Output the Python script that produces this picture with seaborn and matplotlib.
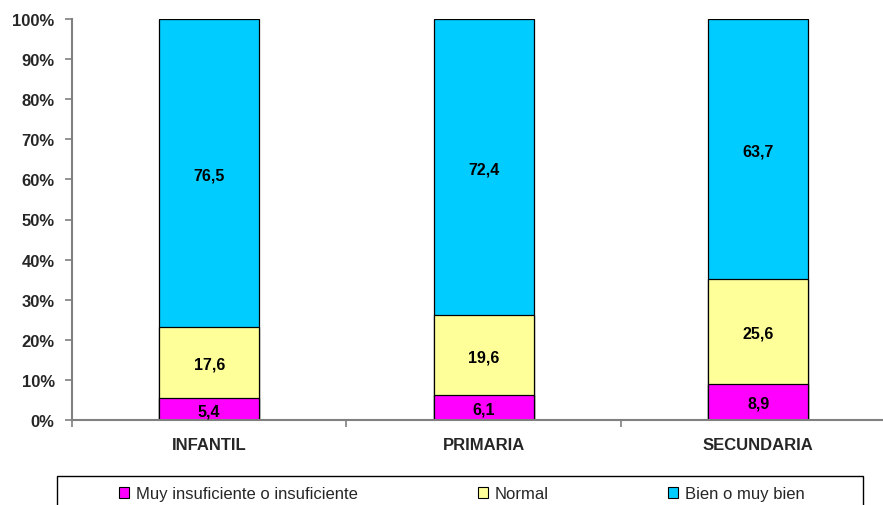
import pandas as pd
import matplotlib.pyplot as plt
import seaborn as sns
from matplotlib.patches import Patch, Rectangle
from matplotlib.ticker import FixedLocator

# Data (percentages as shown in the chart)
niveles = ["INFANTIL", "PRIMARIA", "SECUNDARIA"]
muy_insuf = [5.4, 6.1, 8.9]
normal = [17.6, 19.6, 25.6]
bien = [76.5, 72.4, 63.7]
series_names = ["Muy insuficiente o insuficiente", "Normal", "Bien o muy bien"]
colors = ["#FF00FF", "#FFFF99", "#00CCFF"]

sns.set_style("white")
plt.rcParams["font.family"] = ["Liberation Sans", "DejaVu Sans"]

df = pd.DataFrame({"nivel": niveles, "a": muy_insuf, "b": normal, "c": bien})
tot = df[["a", "b", "c"]].sum(axis=1)
# normalise to 100% and build cumulative tops
df["p1"] = df["a"] / tot * 100
df["p2"] = (df["a"] + df["b"]) / tot * 100
df["p3"] = (df["a"] + df["b"] + df["c"]) / tot * 100

fig = plt.figure(figsize=(8.83, 5.06), dpi=100)
ax = fig.add_axes([72 / 883, 85 / 506, 823.5 / 883, 401 / 506])

bw = 0.365
# back to front: full stack, then lower parts on top
for col, c in zip(["p3", "p2", "p1"], colors[::-1]):
    sns.barplot(data=df, x="nivel", y=col, color=c, width=bw, edgecolor="black",
                linewidth=0.9, saturation=1, ax=ax)

# value labels centred in each segment
for i in range(len(df)):
    lows = [0, df["p1"][i], df["p2"][i]]
    highs = [df["p1"][i], df["p2"][i], df["p3"][i]]
    vals = [muy_insuf[i], normal[i], bien[i]]
    for lo, hi, v in zip(lows, highs, vals):
        ax.text(i, (lo + hi) / 2 - 0.4, f"{v:.1f}".replace(".", ","), ha="center", va="center",
                fontsize=11.5, fontweight="bold", color="black")

ax.set_xlim(-0.5, 2.5)
ax.set_ylim(0, 100)
ax.set_yticks(range(0, 101, 10))
ax.set_yticklabels([f"{t}%" for t in range(0, 101, 10)], fontsize=12, fontweight="bold")
ax.set_xticks(range(len(niveles)))
ax.set_xticklabels(niveles, fontsize=12, fontweight="bold")
ax.xaxis.set_minor_locator(FixedLocator([-0.5, 0.5, 1.5, 2.5]))
ax.tick_params(axis="x", which="major", length=0, pad=12.5)
ax.tick_params(axis="x", which="minor", length=5, color="#808080", width=1.2, bottom=True)
ax.tick_params(axis="y", length=5, color="#808080", width=1.2, left=True, pad=7.5)
ax.set_xlabel("")
ax.set_ylabel("")
for s in ["top", "right"]:
    ax.spines[s].set_visible(False)
for s in ["left", "bottom"]:
    ax.spines[s].set_color("#808080")
    ax.spines[s].set_linewidth(1.5)

# legend box (cut off at the bottom like the original)
fig.patches.append(Rectangle((57 / 883, -0.1), 806 / 883, 0.1 + 29 / 506,
                             transform=fig.transFigure, fill=False,
                             edgecolor="black", linewidth=1))
handles = [Patch(facecolor=c, edgecolor="black", linewidth=0.8) for c in colors]
fig.legend(handles, series_names, loc="center", bbox_to_anchor=(462 / 883, 1 - 495 / 506),
           bbox_transform=fig.transFigure, ncol=3, frameon=False, fontsize=12,
           handlelength=0.6, handleheight=0.6, handletextpad=0.4, columnspacing=7.2)

fig.savefig("out.png", dpi=100)
